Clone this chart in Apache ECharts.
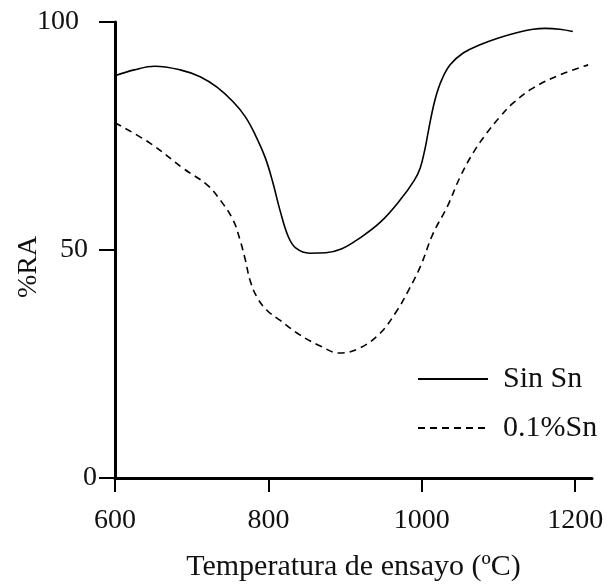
<!DOCTYPE html>
<html><head><meta charset="utf-8">
<script src="https://cdn.jsdelivr.net/npm/echarts@6/dist/echarts.min.js"></script>
<style>html,body{margin:0;padding:0;background:#fff}#c{width:607px;height:585px}</style>
</head><body><div id="c"></div>
<script>
const seriesNames = ['Sin Sn', '0.1%Sn'];
const sinSn = [[600,88.2],[625,89.5],[652,90.3],[685,89.5],[711,88],[733,85.7],[754,82.5],[770,79.2],[783,75.2],[796,70.2],[806,64.7],[815,58.8],[826,52.9],[836,50.4],[854,49.3],[875,49.4],[895,50.2],[919,52.6],[946,56.1],[972,61],[990,65.2],[998,68],[1004,72],[1008,75.5],[1012,79],[1018,83.4],[1026,87.3],[1037,90.6],[1054,93.2],[1076,95],[1100,96.5],[1125,97.7],[1145,98.4],[1161,98.6],[1180,98.4],[1197,97.9]];
const sn01 = [[600,77.9],[646,73.4],[689,67.9],[720,64.3],[737,61],[754,56.6],[763,52.2],[770,47.8],[776,43.4],[785,39.7],[798,36.8],[815,34.6],[841,31.4],[867,29],[893,27.4],[919,28.5],[946,31.8],[968,36.8],[981,40.6],[998,46.3],[1015,53.7],[1033,59.4],[1050,66],[1067,71.3],[1085,75.7],[1102,79.2],[1119,82.2],[1145,85.5],[1180,88.4],[1217,90.6]];
const xTicks = {min: 600, max: 1222, interval: 200};
const yTicks = {min: 0, max: 100, interval: 50};
const font = 'Liberation Serif';
const lbl = {fontFamily: font, fontSize: 28, color: '#111'};
const chart = echarts.init(document.getElementById('c'));
chart.setOption({
  animation: false,
  backgroundColor: '#fff',
  grid: {left: 115, top: 22, right: 15, bottom: 107, containLabel: false, outerBoundsMode: 'none'},
  legend: {
    orient: 'vertical', left: 412, top: 359, itemWidth: 70, itemHeight: 14, itemGap: 19,
    itemStyle: {opacity: 0},
    textStyle: {fontFamily: font, fontSize: 30, lineHeight: 30, color: '#111', padding: [0,0,0,10]},
    data: seriesNames
  },
  xAxis: {
    type: 'value', min: xTicks.min, max: xTicks.max, interval: xTicks.interval,
    name: 'Temperatura de ensayo (ºC)', nameLocation: 'middle', nameGap: 74, nameMoveOverlap: false,
    nameTextStyle: {fontFamily: font, fontSize: 30, color: '#111'},
    axisLine: {lineStyle: {color: '#000', width: 3}},
    axisTick: {length: 14, lineStyle: {color: '#000', width: 2}},
    axisLabel: {fontFamily: font, fontSize: 28, color: '#111', margin: 29, formatter: v => String(v)},
    splitLine: {show: false}
  },
  yAxis: {
    type: 'value', min: yTicks.min, max: yTicks.max, interval: yTicks.interval,
    name: '%RA', nameLocation: 'middle', nameGap: 72, nameMoveOverlap: false,
    nameTextStyle: {fontFamily: font, fontSize: 28, color: '#111', padding: [0, 34, 0, 0]},
    axisLine: {show: true, lineStyle: {color: '#000', width: 3}},
    axisTick: {show: true, length: 16, lineStyle: {color: '#000', width: 2}},
    axisLabel: {
      fontFamily: font, fontSize: 28, color: '#111', margin: 18,
      formatter: v => v === 100 ? '{a|100}' : (v === 50 ? '{b|50}' : '{c|' + v + '}'),
      rich: {
        a: Object.assign({padding: [0, 18, 0, 0]}, lbl),
        b: Object.assign({padding: [0, 9, 0, 0]}, lbl),
        c: Object.assign({padding: [0, 0, 0, 0]}, lbl)
      }
    },
    splitLine: {show: false}
  },
  series: [
    {name: seriesNames[0], type: 'line', data: sinSn, smooth: 0.4, symbol: 'none',
     lineStyle: {color: '#000', width: 1.6, type: 'solid'}, itemStyle: {color: '#000'}},
    {name: seriesNames[1], type: 'line', data: sn01, smooth: 0.4, symbol: 'none',
     lineStyle: {color: '#000', width: 1.6, type: [7, 5]}, itemStyle: {color: '#000'}}
  ]
});
</script></body></html>
